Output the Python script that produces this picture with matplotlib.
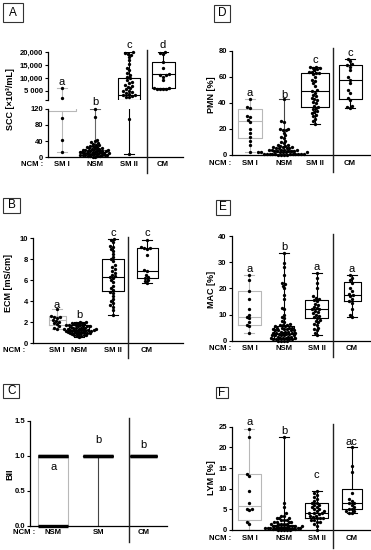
import numpy as np
import matplotlib
matplotlib.use("Agg")
import matplotlib.pyplot as plt
from matplotlib.lines import Line2D
from matplotlib.patches import Rectangle

plt.rcParams['font.family'] = ['Liberation Sans', 'DejaVu Sans']

# ---------------- data ----------------
cats4 = ['SM I', 'NSM', 'SM II', 'CM']
cats3 = ['NSM', 'SM', 'CM']

# A: SCC [x10^3/mL]
scc_whislo = [13, 0, 8, 5500]
scc_q1 = [115, 5, 1400, 5900]
scc_med = [600, 10, 3300, 11400]
scc_q3 = [1000, 18, 10000, 16100]
scc_whishi = [6100, 120, 20000, 20000]
scc_smi = [6100, 2000, 97, 42, 13]
scc_nsm = [120, 100, 42, 40, 37, 35, 33, 31, 30, 28, 27, 26, 25, 24, 23, 22, 21, 20, 20,
           19, 18, 18, 17, 16, 16, 15, 15, 14, 14, 13, 13, 12, 12, 11, 11, 10, 10, 9, 9,
           8, 8, 7, 7, 6, 6, 5, 5, 4, 4, 3, 3, 2, 2, 1, 1]
scc_smii = [20000, 19700, 19400, 19000, 18200, 17000, 15500, 14000, 13000, 12000, 11200,
            10500, 9800, 9000, 8500, 8000, 7400, 7000, 6500, 6000, 5500, 5000, 4700, 4400,
            4100, 3800, 3500, 3300, 3000, 2700, 2400, 94, 8]
scc_cm = [20000, 19600, 19200, 16100, 14000, 11500, 11200, 11000, 10500, 9000, 6200, 6000,
          5800, 5700, 5600, 5500]
scc_letters = ['a', 'b', 'c', 'd']

# D: PMN [%]
pmn_whislo = [2, 0, 24, 36]
pmn_q1 = [13, 0.5, 37, 43]
pmn_med = [26, 2, 49, 58]
pmn_q3 = [35, 4, 63, 69]
pmn_whishi = [43, 43, 68, 74]
pmn_smi = [43, 37, 36, 30, 29, 27, 25, 20, 17, 14, 11, 8, 2]
pmn_nsm = [43, 26, 25, 20, 20, 19, 19, 17, 15, 14, 13, 11, 10, 9, 8, 8, 7, 7, 6, 6, 6, 5,
           5, 5, 5, 4, 4, 4, 4, 4, 3, 3, 3, 3, 3, 2, 2, 2, 2, 2, 2, 1, 1, 1, 1, 1, 1, 1,
           0.5, 0.5, 0.5, 0.5, 0, 0, 0, 0]
pmn_smii = [68, 68, 67, 67, 66, 65, 64, 64, 63, 63, 62, 60, 58, 57, 55, 53, 50, 49, 48, 46,
            45, 44, 43, 42, 41, 40, 38, 37, 36, 35, 34, 33, 32, 31, 30, 28, 26, 24]
pmn_cm = [74, 72, 70, 69, 68, 65, 60, 58, 55, 50, 48, 44, 42, 38, 37, 36]
pmn_letters = ['a', 'b', 'c', 'c']

# B: ECM [mS/cm]
ecm_whislo = [1.4, 0.6, 2.7, 5.7]
ecm_q1 = [1.7, 1.0, 5.0, 6.2]
ecm_med = [2.2, 1.3, 6.3, 6.9]
ecm_q3 = [2.6, 1.7, 8.0, 9.1]
ecm_whishi = [3.3, 2.0, 9.9, 9.8]
ecm_smi = [3.3, 2.6, 2.5, 2.5, 2.4, 2.2, 2.1, 2.0, 1.9, 1.8, 1.6, 1.5, 1.4]
ecm_nsm = [2.0, 2.0, 1.95, 1.9, 1.9, 1.85, 1.8, 1.8, 1.75, 1.7, 1.7, 1.7, 1.65, 1.6, 1.6,
           1.6, 1.55, 1.5, 1.5, 1.5, 1.45, 1.4, 1.4, 1.4, 1.4, 1.35, 1.3, 1.3, 1.3, 1.3,
           1.25, 1.2, 1.2, 1.2, 1.2, 1.15, 1.1, 1.1, 1.1, 1.05, 1.0, 1.0, 1.0, 0.95, 0.9,
           0.9, 0.85, 0.8, 0.8, 0.75, 0.7, 0.65, 0.6]
ecm_smii = [9.9, 9.8, 9.6, 9.3, 9.2, 9.0, 8.8, 8.5, 8.2, 8.0, 7.8, 7.5, 7.3, 7.1, 6.9, 6.7,
            6.5, 6.4, 6.3, 6.2, 6.0, 5.8, 5.5, 5.3, 5.1, 4.9, 4.8, 4.5, 4.2, 4.0, 3.8, 3.6,
            3.5, 3.2, 2.7]
ecm_cm = [9.8, 9.2, 9.1, 9.1, 9.0, 8.4, 7.0, 6.9, 6.5, 6.3, 6.2, 6.0, 5.9, 5.7]
ecm_letters = ['a', 'b', 'c', 'c']

# E: MAC [%]
mac_whislo = [3, 0, 2, 9]
mac_q1 = [6, 0.5, 8.5, 15]
mac_med = [9, 2.5, 12, 17.5]
mac_q3 = [19, 5.5, 15.5, 22.5]
mac_whishi = [25, 33.5, 26, 25]
mac_smi = [25, 23, 19, 16, 12, 10, 9, 8.5, 7, 6, 5.5, 3]
mac_nsm = [33.5, 29.5, 28, 25, 22, 21.5, 21, 20, 17.5, 16, 12.5, 12, 10, 9, 8.5, 7.5, 7,
           6.5, 6, 6, 6, 5.5, 5.5, 5, 5, 5, 5, 4.5, 4.5, 4.5, 4, 4, 4, 4, 3.5, 3.5, 3.5, 3,
           3, 3, 3, 3, 2.5, 2.5, 2.5, 2, 2, 2, 2, 2, 1.5, 1.5, 1.5, 1, 1, 1, 1, 1, 0.5, 0.5,
           0.5, 0.5, 0, 0, 0, 0]
mac_smii = [26, 24, 22, 20, 17, 16.5, 16, 15.5, 15, 14, 13.5, 13, 12.5, 12, 12, 11.5, 11,
            10.5, 10, 9.5, 9, 8.5, 8, 7.5, 7, 6.5, 6, 5, 4.5, 4, 3, 2]
mac_cm = [25, 24, 23, 22, 20, 19, 18, 17.5, 17, 16, 15, 14.5, 12, 10, 9]
mac_letters = ['a', 'b', 'a', 'a']

# C: BII
bii_whislo = [0, 0, 1]
bii_q1 = [0, 1, 1]
bii_med = [1, 1, 1]
bii_q3 = [1, 1, 1]
bii_whishi = [1, 1, 1]
bii_levels = [[0, 1], [1], [1]]
bii_letters = ['a', 'b', 'b']

# F: LYM [%]
lym_whislo = [0, 0, 0, 4]
lym_q1 = [2.5, 0.2, 3, 5]
lym_med = [5.8, 0.6, 4, 6.5]
lym_q3 = [13.5, 1.2, 6.5, 10]
lym_whishi = [24.5, 22.5, 9.5, 20]
lym_smi = [24.5, 22.5, 13.5, 13, 9.5, 6.5, 5, 5, 4.8, 2, 1.5]
lym_nsm = [22.5, 6.5, 5.5, 4, 3.5, 3.5, 3, 3, 3, 2.5, 2.5, 2.5, 2, 2, 2, 2, 1.5, 1.5, 1.5,
           1.5, 1.5, 1, 1, 1, 1, 1, 1, 0.8, 0.8, 0.8, 0.8, 0.5, 0.5, 0.5, 0.5, 0.5, 0.3,
           0.3, 0.3, 0.3, 0, 0, 0, 0, 0]
lym_smii = [9.5, 9, 8.5, 8, 7.5, 7, 6.5, 6.5, 6, 6, 5.5, 5.5, 5, 5, 4.5, 4.5, 4.2, 4, 4,
            3.8, 3.5, 3.5, 3.2, 3, 3, 2.8, 2.5, 2.5, 2, 2, 1.5, 1, 0]
lym_cm = [20, 15.5, 14, 9, 7.5, 7, 6.5, 6.5, 6, 5.5, 5, 5, 4.5, 4.5, 4, 4]
lym_letters = ['a', 'b', 'c', 'ac']

# ---------------- layout ----------------
W, H = 371, 550
fig = plt.figure(figsize=(W / 100, H / 100), dpi=100)
GRAY = '#b8b8b8'
MS = 2.4       # pt
D_SPARSE = 3.1  # px spacing for sparse groups


def fx(x):
    return x / W


def fy(y):
    return 1 - y / H


def add_ax(x0, y0, x1, y1, ylim, bottom=True):
    ax = fig.add_axes([x0 / W, 1 - y1 / H, (x1 - x0) / W, (y1 - y0) / H])
    ax.set_xlim(x0, x1)
    ax.set_ylim(*ylim)
    ax.patch.set_alpha(0)
    ax.spines['top'].set_visible(False)
    ax.spines['right'].set_visible(False)
    ax.spines['bottom'].set_visible(bottom)
    for s in ['left', 'bottom']:
        ax.spines[s].set_linewidth(0.9)
    ax.tick_params(axis='y', direction='out', length=2.5, width=0.8, pad=1)
    ax.set_xticks([])
    return ax


def set_yt(ax, ticks, labels):
    ax.set_yticks(ticks, labels, fontweight='bold', fontsize=5.5)


def swarm(ypix, d):
    ypix = np.asarray(ypix, float)
    order = np.argsort(ypix)
    placed = []
    xs = np.zeros(len(ypix))
    for i in order:
        y = ypix[i]
        neigh = [(px, py) for px, py in placed if abs(py - y) < d]
        cands = [0.0]
        for px, py in neigh:
            dx = np.sqrt(d * d - (py - y) ** 2)
            cands += [px + dx, px - dx]
        cands.sort(key=lambda c: (abs(c), c))
        for c in cands:
            if all((c - px) ** 2 + (y - py) ** 2 >= d * d - 1e-6 for px, py in neigh):
                xs[i] = c
                break
        placed.append((xs[i], y))
    return xs


def draw_box(ax, pos, w, stat, color, capw=10, lw=0.8, caps=True):
    ax.bxp([stat], positions=[pos], widths=[w], capwidths=[capw], showfliers=False,
           showcaps=caps, manage_ticks=False,
           boxprops=dict(color=color, lw=lw), whiskerprops=dict(color=color, lw=lw),
           capprops=dict(color=color, lw=lw), medianprops=dict(color=color, lw=lw))


def stat_of(lo, q1, med, q3, hi, i):
    return dict(whislo=lo[i], q1=q1[i], med=med[i], q3=q3[i], whishi=hi[i], fliers=[])


def sep(x, y0, y1):
    fig.add_artist(Line2D([fx(x), fx(x)], [fy(y0), fy(y1)], color='#222', lw=1.0))


def label_box(letter, x0, y0, x1, y1):
    fig.add_artist(Rectangle((fx(x0), fy(y1)), (x1 - x0) / W, (y1 - y0) / H,
                             fill=False, ec='#333', lw=0.8))
    fig.text(fx((x0 + x1) / 2), fy((y0 + y1) / 2), letter, ha='center', va='center',
             fontsize=8.5)


def ylab(x, y, s):
    fig.text(fx(x), fy(y), s, rotation=90, ha='center', va='center', fontsize=6.5,
             fontweight='bold')


def cat_labels(positions, cats, y, ncm_x):
    fig.text(fx(ncm_x), fy(y), 'NCM :', ha='left', va='center', fontsize=5.6,
             fontweight='bold')
    for p, c in zip(positions, cats):
        fig.text(fx(p), fy(y), c, ha='center', va='center', fontsize=5.6,
                 fontweight='bold')


def letters(positions, labs, ys):
    for p, l, y in zip(positions, labs, ys):
        fig.text(fx(p), fy(y), l, ha='center', va='center', fontsize=8)


def std_panel(ax, positions, widths, colors, lo, q1, med, q3, hi, groups, d_dense, capw=10):
    y0, y1 = ax.get_ylim()
    bb = ax.get_position()
    ppu = bb.height * H / (y1 - y0)
    for i, p in enumerate(positions):
        draw_box(ax, p, widths[i], stat_of(lo, q1, med, q3, hi, i), colors[i], capw=capw)
        vals = np.asarray(groups[i], float)
        d = d_dense if i == 1 else D_SPARSE
        xs = swarm((vals - y0) * ppu, d)
        ax.plot(p + xs, vals, 'o', ms=MS, color='k', mew=0, zorder=3, clip_on=False)


# ---------- Panel A (broken axis) ----------
posA = [62, 95, 129, 163]
widA = [28, 20, 22, 23]
colA = [GRAY, '#666', 'k', 'k']
axAu = add_ax(48, 52.3, 183, 100, (1367, 20000), bottom=False)
axAl = add_ax(48, 109, 183, 157, (0, 120))
set_yt(axAu, [1367, 5000, 10000, 15000, 20000], ['', '5 000', '10,000', '15,000', '20,000'])
set_yt(axAl, [0, 40, 80, 120], ['0', '40', '80', '120'])
groupsA = [scc_smi, scc_nsm, scc_smii, scc_cm]


def a_pix(v):
    v = np.asarray(v, float)
    return np.where(v <= 120, (157 - v * 48 / 120), 100 - (v - 1367) * 47.7 / (20000 - 1367))


for i, p in enumerate(posA):
    st = stat_of(scc_whislo, scc_q1, scc_med, scc_q3, scc_whishi, i)
    for ax in (axAu, axAl):
        draw_box(ax, p, widA[i], st, colA[i])
    vals = np.asarray(groupsA[i], float)
    d = 2.5 if i == 1 else D_SPARSE
    xs = swarm(-a_pix(vals), d)
    lo_m = vals <= 120
    axAl.plot(p + xs[lo_m], vals[lo_m], 'o', ms=MS, color='k', mew=0, zorder=3, clip_on=False)
    axAu.plot(p + xs[~lo_m], vals[~lo_m], 'o', ms=MS, color='k', mew=0, zorder=3, clip_on=False)
sep(147, 50, 173)
label_box('A', 3.3, 3.3, 23.3, 21.7)
ylab(11, 99, 'SCC [×10³/mL]')
cat_labels(posA, cats4, 164.5, 21)
letters(posA, scc_letters, [81.7, 101.7, 45, 45])

# ---------- Panel D ----------
posD = [250, 284, 315, 350]
axD = add_ax(231.7, 51, 370, 155, (0, 80))
set_yt(axD, [0, 20, 40, 60, 80], ['0', '20', '40', '60', '80'])
std_panel(axD, posD, [24, 20, 28, 23], [GRAY, '#444', 'k', 'k'],
          pmn_whislo, pmn_q1, pmn_med, pmn_q3, pmn_whishi,
          [pmn_smi, pmn_nsm, pmn_smii, pmn_cm], 2.9)
sep(333.3, 48, 172)
label_box('D', 214.3, 5, 230, 21.7)
ylab(212, 95, 'PMN [%]')
cat_labels(posD, cats4, 163.5, 209)
letters(posD, pmn_letters, [93.3, 95, 60, 53.3])

# ---------- Panel B ----------
posB = [57, 79, 113, 147]
axB = add_ax(33, 238.3, 183, 343.3, (0, 10))
set_yt(axB, [0, 2, 4, 6, 8, 10], ['0', '2', '4', '6', '8', '10'])
std_panel(axB, posB, [17, 20, 22, 21], [GRAY, 'k', 'k', 'k'],
          ecm_whislo, ecm_q1, ecm_med, ecm_q3, ecm_whishi,
          [ecm_smi, ecm_nsm, ecm_smii, ecm_cm], 2.5)
sep(128.3, 236.7, 358)
label_box('B', 3.3, 198, 20, 213)
ylab(8.5, 283, 'ECM [mS/cm]')
cat_labels(posB, cats4, 350.5, 3)
letters(posB, ecm_letters, [305, 315, 232.7, 232.7])

# ---------- Panel E ----------
posE = [249.5, 284, 316.7, 352]
axE = add_ax(231.7, 236, 370, 340.7, (0, 40))
set_yt(axE, [0, 10, 20, 30, 40], ['0', '10', '20', '30', '40'])
std_panel(axE, posE, [23, 20, 23, 17], [GRAY, 'k', 'k', 'k'],
          mac_whislo, mac_q1, mac_med, mac_q3, mac_whishi,
          [mac_smi, mac_nsm, mac_smii, mac_cm], 2.8)
sep(332.7, 234, 356.7)
label_box('E', 215.7, 200, 230, 215)
ylab(212, 289, 'MAC [%]')
cat_labels(posE, cats4, 348.8, 209)
letters(posE, mac_letters, [269.3, 246.7, 267.3, 269.3])

# ---------- Panel C ----------
posC = [53.3, 98.3, 143.3]
widC = [30, 30, 27]
axC = add_ax(30, 420.7, 167, 525.7, (0, 1.5))
set_yt(axC, [0, 0.5, 1.0, 1.5], ['0.0', '0.5', '1.0', '1.5'])
colC = [GRAY, 'k', 'k']
for i, p in enumerate(posC):
    st = stat_of(bii_whislo, bii_q1, bii_med, bii_q3, bii_whishi, i)
    axC.bxp([st], positions=[p], widths=[widC[i]], showfliers=False, showcaps=False,
            manage_ticks=False,
            boxprops=dict(color=colC[i], lw=0.8), whiskerprops=dict(color='#444', lw=0.8),
            medianprops=dict(color='k', lw=2.4))
    for lv in bii_levels[i]:
        axC.hlines(lv, p - widC[i] / 2, p + widC[i] / 2, color='k', lw=2.4, zorder=3,
                   clip_on=False)
sep(128.7, 418, 541.7)
label_box('C', 3.3, 384.3, 19.3, 398.3)
ylab(10, 474, 'BII')
cat_labels(posC, cats3, 533, 13)
letters(posC, bii_letters, [466.7, 440, 445])

# ---------- Panel F ----------
posF = [249.5, 284, 316.7, 351.7]
axF = add_ax(231.7, 426.7, 370, 530, (0, 25))
set_yt(axF, [0, 5, 10, 15, 20, 25], ['0', '5', '10', '15', '20', '25'])
std_panel(axF, posF, [23, 20, 23, 20], [GRAY, 'k', 'k', 'k'],
          lym_whislo, lym_q1, lym_med, lym_q3, lym_whishi,
          [lym_smi, lym_nsm, lym_smii, lym_cm], 2.8)
sep(332.7, 424.3, 547.7)
label_box('F', 215.7, 386.7, 228.3, 398.3)
ylab(212, 477.5, 'LYM [%]')
cat_labels(posF, cats4, 538.5, 209)
letters(posF, lym_letters, [422.3, 431, 475, 442.3])

fig.savefig('out.png', dpi=100)
